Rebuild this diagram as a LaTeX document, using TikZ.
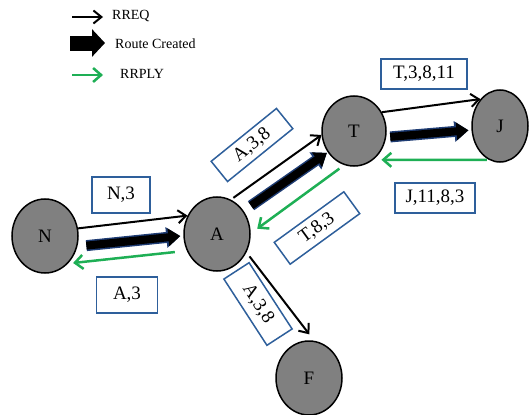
\documentclass[tikz,border=0pt]{standalone}
\usepackage{fontspec}
\setmainfont{Liberation Serif}
\usetikzlibrary{shapes}
\usetikzlibrary{arrows.meta}
\definecolor{boxblue}{RGB}{46,95,155}
\definecolor{replygreen}{RGB}{30,175,85}
\definecolor{routeedge}{RGB}{30,60,115}
\definecolor{nodegray}{RGB}{128,128,128}

\begin{document}
\begin{tikzpicture}[x=1pt, y=-1pt,
  n/.style={ellipse, draw, line width=1.5pt, fill=nodegray, minimum width=66pt, minimum height=74pt, inner sep=0pt, font=\fontsize{19}{19}\selectfont},
  lbl/.style={draw=boxblue, line width=1.5pt, fill=white, inner sep=0pt, font=\fontsize{19}{19}\selectfont},
  rreq/.style={line width=2pt, -{Straight Barb[length=8pt,width=13pt]}},
  rrply/.style={draw=replygreen, line width=2.5pt, -{Straight Barb[length=8pt,width=14pt]}},
  route/.style={line width=8pt, -{Triangle[length=12pt,width=17pt]}, preaction={draw=routeedge, line width=11pt, -{Triangle[length=14pt,width=20pt]}}},
  key/.style={anchor=west, inner sep=0pt, font=\fontsize{14}{14}\selectfont}]
            \useasboundingbox (0,0) rectangle (531,415);

            \coordinate (k1) at (72,17);
            \coordinate (k1e) at (103,17);
            \coordinate (k2) at (70,43);
            \coordinate (k2e) at (105,43);
            \coordinate (k3) at (72,75);
            \coordinate (k3e) at (103,75);
            \draw[rreq] (k1) -- (k1e);
            \draw[line width=15pt, -{Triangle[length=13pt,width=27pt]}] (k2) -- (k2e);
            \draw[rrply] (k3) -- (k3e);
            \node[key] (kreq) at (112,16) {RREQ};
            \node[key] (kroute) at (115,44) {Route Created};
            \node[key] (kreply) at (120,74) {RRPLY};

            \node[n] (N) at (45,236) {N};
            \node[n] (A) at (217,234) {A};
            \node[n, minimum width=64pt, minimum height=70pt] (T) at (354,131) {T};
            \node[n, minimum width=56pt, minimum height=72pt] (J) at (500,126) {J};
            \node[n] (F) at (309,378) {F};

            \draw[rreq] (N.13) -- (A.148);
            \draw[route, shorten <=9pt, shorten >=3pt] (N.-18) -- (A.183);
            \draw[rrply, shorten <=12pt, shorten >=5pt] (A.209) -- (N.-50);
            \draw[rreq, shorten <=3pt] (A.68) -- (T.187);
            \draw[route, shorten <=9pt, shorten >=1pt] (A.41) -- (T.219);
            \draw[rrply, shorten <=6pt, shorten >=8pt] (T.254) -- (A.1);
            \draw[rreq] (T.34) -- (J.126);
            \draw[route, shorten <=4pt, shorten >=3pt] (T.-11) -- (J.188);
            \draw[rrply, shorten <=2pt, shorten >=8pt] (J.252) -- (T.-56);
            \draw[rreq, shorten <=5pt, shorten >=8pt] (A.-32) -- (F.82);

            \node[lbl, minimum width=58pt, minimum height=36pt] (n3) at (121,195) {N,3};
            \node[lbl, minimum width=61pt, minimum height=36pt] (a3) at (127,295) {A,3};
            \node[lbl, minimum width=84pt, minimum height=26pt, rotate=39] (a38) at (252,145) {A,3,8};
            \node[lbl, minimum width=86pt, minimum height=27pt, rotate=36] (t83) at (317,228) {T,8,3};
            \node[lbl, minimum width=86pt, minimum height=30pt] (t3811) at (424,74) {T,3,8,11};
            \node[lbl, minimum width=80pt, minimum height=30pt] (j1183) at (435,198) {J,11,8,3};
            \node[lbl, minimum width=79pt, minimum height=30pt, rotate=-57] (a38f) at (258,304) {A,3,8};
        \end{tikzpicture}
\end{document}
